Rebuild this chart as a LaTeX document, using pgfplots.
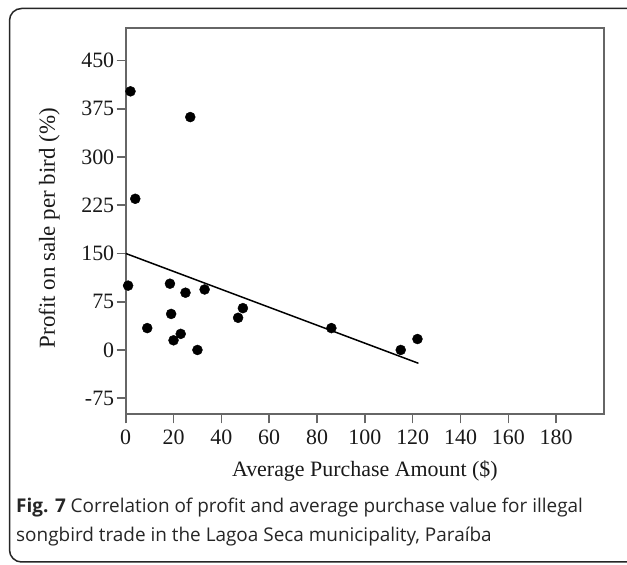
\documentclass[border=0pt]{standalone}
\usepackage{fontspec}
\setmainfont{Liberation Serif}
\newfontfamily\capfont{Open Sans}
\usepackage{pgfplots}
\pgfplotsset{compat=1.18}
\begin{document}
\begin{tikzpicture}[x=1bp,y=1bp]
\useasboundingbox (0,0) rectangle (627,565);
\clip (0,0) rectangle (627,565);
\fill[white] (0,0) rectangle (627,565);
\draw[line width=1.5bp, color=black!85, rounded corners=12bp] (9.5,556.5) rectangle (640,3);
\begin{axis}[
  at={(125.7bp,150.7bp)}, anchor=south west,
  scale only axis, width=478.3bp, height=386bp,
  xmin=0, xmax=200, ymin=-100, ymax=500,
  xtick={0,20,...,180}, ytick={-75,0,75,150,225,300,375,450},
  axis line style={line width=2.2bp, color=black!60},
  tick style={line width=1.6bp, color=black!60},
  tick align=outside, xtick pos=bottom, ytick pos=left,
  major tick length=9bp,
  ticklabel style={font=\fontsize{22}{24}\selectfont, text=black!90},
  /pgf/number format/assume math mode=true,
  /pgf/number format/1000 sep={},
  xticklabel style={yshift=-3bp},
  yticklabel style={xshift=1bp},
  xlabel={Average Purchase Amount (\$)},
  ylabel={Profit on sale per bird (\%)},
  xlabel style={font=\fontsize{22}{24}\selectfont, text=black!90, at={(axis description cs:0.5,0)}, anchor=center, yshift=-57bp},
  ylabel style={font=\fontsize{23}{25}\selectfont, text=black!90, at={(axis description cs:-0.160,0.482)}, anchor=center, rotate=0},
  clip=false,
]
\addplot[only marks, mark=*, mark size=5bp, color=black] coordinates {
(2,402) (27,362) (4,235) (1,100) (18.5,103) (25,89) (33,94) (19,56)
(9,34) (20,15) (23,25) (30,0) (47,50) (49,65) (86,34) (115,0) (122,17)
};
\addplot[line width=1.5bp, color=black] coordinates {(0,150) (122.4,-20.7)};
\end{axis}
\node[anchor=base west, inner sep=0pt, font=\capfont\fontsize{19}{30}\selectfont, text=black!85] at (16,52) {\textbf{Fig. 7} Correlation of profit and average purchase value for illegal};
\node[anchor=base west, inner sep=0pt, font=\capfont\fontsize{19}{30}\selectfont, text=black!85] at (16,23) {songbird trade in the Lagoa Seca municipality, Paraíba};
\end{tikzpicture}
\end{document}
